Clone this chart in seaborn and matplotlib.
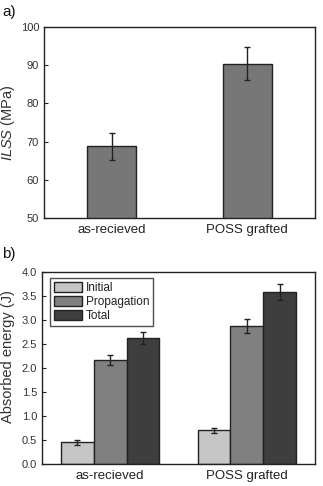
import matplotlib
matplotlib.use("Agg")
import matplotlib.pyplot as plt
import seaborn as sns
import pandas as pd
import numpy as np

samples = ["as-recieved", "POSS grafted"]
ilss = [68.8, 90.4]
ilss_err = [3.5, 4.3]

phases = ["Initial", "Propagation", "Total"]
energy_initial = [0.45, 0.70]
energy_prop = [2.17, 2.88]
energy_total = [2.62, 3.58]
err_initial = [0.05, 0.05]
err_prop = [0.11, 0.15]
err_total = [0.13, 0.17]

sns.set_style("white")
plt.rcParams['font.family'] = ['Liberation Sans', 'DejaVu Sans']
plt.rcParams['mathtext.fontset'] = 'custom'
plt.rcParams['mathtext.it'] = 'Liberation Sans:italic'
plt.rcParams['mathtext.rm'] = 'Liberation Sans'

fig = plt.figure(figsize=(3.23, 4.86), dpi=100)
W, H = 323, 486
ax1 = fig.add_axes([44 / W, 1 - 218 / H, (315 - 44) / W, (218 - 27) / H])
ax2 = fig.add_axes([42 / W, 1 - 464 / H, (315 - 42) / W, (464 - 272) / H])

# Panel a
df1 = pd.DataFrame({"sample": samples, "ilss": ilss})
sns.barplot(data=df1, x="sample", y="ilss", ax=ax1, color="#777777",
            width=0.36, edgecolor="#222222", linewidth=1.0, saturation=1)
for p, e in zip(ax1.patches, ilss_err):
    cx = p.get_x() + p.get_width() / 2
    ax1.errorbar(cx, p.get_height(), yerr=e, color="#222222", capsize=2.5,
                 elinewidth=1.0, capthick=1.0)
ax1.set_ylim(50, 100)
ax1.set_xlim(-0.5, 1.5)
ax1.set_yticks([50, 60, 70, 80, 90, 100])
ax1.set_xlabel("")
ax1.set_ylabel(r"$\mathit{ILSS}$ (MPa)", fontsize=10.5, color="#333333")
ax1.yaxis.set_label_coords(-0.10, 0.5)

# Panel b
df2 = pd.DataFrame({
    "sample": samples * 3,
    "phase": [phases[0]] * 2 + [phases[1]] * 2 + [phases[2]] * 2,
    "energy": energy_initial + energy_prop + energy_total,
})
errs2 = err_initial + err_prop + err_total
sns.barplot(data=df2, x="sample", y="energy", hue="phase", ax=ax2,
            palette=["#c6c6c6", "#808080", "#3e3e3e"], width=0.72,
            edgecolor="#222222", linewidth=1.0, saturation=1)
bars = [p for p in ax2.patches if p.get_height() > 0][:6]
for p, e in zip(bars, errs2):
    cx = p.get_x() + p.get_width() / 2
    ax2.errorbar(cx, p.get_height(), yerr=e, color="#222222", capsize=2,
                 elinewidth=1.0, capthick=1.0)
ax2.set_ylim(0, 4.0)
ax2.set_xlim(-0.5, 1.5)
ax2.set_yticks(np.arange(0, 4.01, 0.5))
ax2.set_yticklabels([f"{v:.1f}" for v in np.arange(0, 4.01, 0.5)])
ax2.set_xlabel("")
ax2.set_ylabel("Absorbed energy (J)", fontsize=10.5, color="#333333")
ax2.yaxis.set_label_coords(-0.099, 0.56)
leg = ax2.legend(loc="upper left", bbox_to_anchor=(0.02, 0.98), fontsize=8.5,
                 frameon=True, fancybox=False, edgecolor="#222222",
                 handlelength=2.4, handleheight=0.9, labelspacing=0.15,
                 borderpad=0.35, handletextpad=0.3, borderaxespad=0.2)
leg.get_frame().set_linewidth(1.0)
leg.set_title(None)
for t in leg.get_texts():
    t.set_color("#222222")

for ax in (ax1, ax2):
    for s in ax.spines.values():
        s.set_visible(True)
        s.set_color("#222222")
        s.set_linewidth(1.0)
    ax.tick_params(axis="y", direction="in", length=3, width=0.8,
                   labelsize=8, left=True, labelcolor="#333333", color="#222222")
    ax.tick_params(axis="x", length=0, labelsize=9.5, labelcolor="#222222", pad=4)

fig.text(2 / W, 1 - 12 / H, "a)", fontsize=11, va="center", ha="left", color="#111111")
fig.text(2 / W, 1 - 254 / H, "b)", fontsize=11, va="center", ha="left", color="#111111")

fig.savefig("out.png", dpi=100, facecolor="white")
